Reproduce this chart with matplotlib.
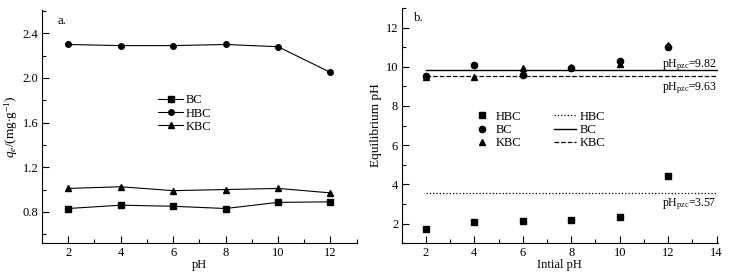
import numpy as np
import matplotlib
matplotlib.use('Agg')
import matplotlib.pyplot as plt
from matplotlib.ticker import MultipleLocator

plt.rcParams['font.family'] = ['Liberation Serif', 'DejaVu Serif']
plt.rcParams['mathtext.fontset'] = 'custom'
plt.rcParams['mathtext.rm'] = 'Liberation Serif'
plt.rcParams['mathtext.it'] = 'Liberation Serif:italic'
plt.rcParams['font.size'] = 9

# panel a: adsorption capacity vs pH
ph = [2, 4, 6, 8, 10, 12]
qe_bc = [0.83, 0.86, 0.85, 0.83, 0.885, 0.89]
qe_hbc = [2.30, 2.29, 2.29, 2.30, 2.28, 2.05]
qe_kbc = [1.01, 1.025, 0.99, 1.00, 1.01, 0.97]

# panel b: equilibrium pH vs initial pH
eq_hbc = [1.73, 2.08, 2.13, 2.17, 2.34, 4.41]
eq_bc = [9.52, 10.08, 9.58, 9.93, 10.28, 11.0]
eq_kbc = [9.50, 9.47, 9.92, 9.97, 10.13, 11.12]
pzc_x = [2, 14]
pzc_hbc = 3.57
pzc_bc = 9.82
pzc_kbc = 9.52   # drawn position (label says 9.63)
pzc_labels = ['3.57', '9.82', '9.63']

fig = plt.figure(figsize=(7.37, 2.75), dpi=100)
ax1 = fig.add_axes([0.057, 0.116, 0.427, 0.848])
ax2 = fig.add_axes([0.545, 0.116, 0.429, 0.855])

def style(ax):
    ax.spines['top'].set_visible(False)
    ax.spines['right'].set_visible(False)
    ax.spines['left'].set_linewidth(0.8)
    ax.spines['bottom'].set_linewidth(0.8)
    ax.tick_params(which='major', direction='in', length=5, width=0.8, labelsize=9, pad=2.5)
    ax.tick_params(which='minor', direction='in', length=3, width=0.8)

style(ax1)
ax1.plot(ph, qe_bc, '-s', color='black', lw=0.8, ms=4, label='BC')
ax1.plot(ph, qe_hbc, '-o', color='black', lw=0.8, ms=4, label='HBC')
ax1.plot(ph, qe_kbc, '-^', color='black', lw=0.8, ms=4, label='KBC')
ax1.set_xlim(1, 13)
ax1.set_ylim(0.52, 2.61)
ax1.set_xticks([2, 4, 6, 8, 10, 12])
ax1.xaxis.set_minor_locator(MultipleLocator(1))
ax1.set_yticks([0.8, 1.2, 1.6, 2.0, 2.4])
ax1.yaxis.set_minor_locator(MultipleLocator(0.2))
ax1.set_xlabel('pH', labelpad=0)
ax1.set_ylabel('$q_e$/(mg$\\cdot$g$^{-1}$)', labelpad=2, fontsize=9.5)
ax1.text(0.05, 0.98, 'a.', transform=ax1.transAxes, va='top', ha='left')
ax1.legend(loc='upper left', bbox_to_anchor=(0.35, 0.665), frameon=False, fontsize=9,
           handlelength=2.0, handletextpad=0.2, labelspacing=0.1, borderpad=0)

style(ax2)
ax2.plot(ph, eq_hbc, 's', color='black', ms=4.5, label='HBC')
ax2.plot(ph, eq_bc, 'o', color='black', ms=4.5, label='BC')
ax2.plot(ph, eq_kbc, '^', color='black', ms=4.5, label='KBC')
ax2.plot(pzc_x, [pzc_hbc, pzc_hbc], ':', color='black', lw=0.9, label='HBC')
ax2.plot(pzc_x, [pzc_bc, pzc_bc], '-', color='black', lw=1.0, label='BC')
ax2.plot(pzc_x, [pzc_kbc, pzc_kbc], '--', color='black', lw=0.9, label='KBC')
ax2.set_xlim(1, 14.05)
ax2.set_ylim(1, 13)
ax2.set_xticks([2, 4, 6, 8, 10, 12, 14])
ax2.xaxis.set_minor_locator(MultipleLocator(1))
ax2.set_yticks([2, 4, 6, 8, 10, 12])
ax2.yaxis.set_minor_locator(MultipleLocator(1))
ax2.set_xlabel('Intial pH', labelpad=0)
ax2.set_ylabel('Equilibrium pH', labelpad=3, fontsize=9.5)
ax2.text(0.04, 0.985, 'b.', transform=ax2.transAxes, va='top', ha='left')
pzc = 'pH$_{\\mathrm{pzc}}$='
ax2.text(14, 10.1, pzc + pzc_labels[1], ha='right', va='center', fontsize=8.5)
ax2.text(14, 8.9, pzc + pzc_labels[2], ha='right', va='center', fontsize=8.5)
ax2.text(14, 3.0, pzc + pzc_labels[0], ha='right', va='center', fontsize=8.5)
ax2.legend(loc='upper left', bbox_to_anchor=(0.2, 0.59), ncol=2, frameon=False, fontsize=9,
           handlelength=1.7, handletextpad=0.3, labelspacing=0.1, borderpad=0,
           columnspacing=2.6)

fig.savefig('out.png', dpi=100)
